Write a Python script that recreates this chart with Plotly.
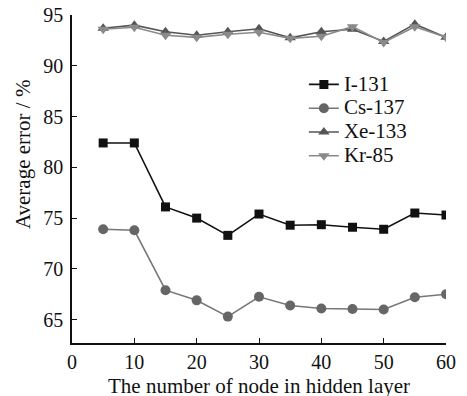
import plotly.graph_objects as go

nodes = [5, 10, 15, 20, 25, 30, 35, 40, 45, 50, 55, 60]
i131 = [82.4, 82.4, 76.1, 75.0, 73.3, 75.4, 74.3, 74.35, 74.1, 73.9, 75.5, 75.3]
cs137 = [73.9, 73.8, 67.9, 66.9, 65.3, 67.25, 66.4, 66.1, 66.05, 66.0, 67.2, 67.5]
xe133 = [93.7, 94.0, 93.35, 93.0, 93.35, 93.65, 92.75, 93.35, 93.6, 92.4, 94.1, 92.8]
kr85 = [93.6, 93.8, 93.0, 92.8, 93.1, 93.3, 92.7, 92.9, 93.85, 92.3, 93.85, 92.8]

xticks = [0, 10, 20, 30, 40, 50, 60]
yticks = [65, 70, 75, 80, 85, 90, 95]
x_title = "The number of node in hidden layer"
y_title = "Average error / %"

series = [
    ("I-131", i131, "#111111", "#111111", "square", 9),
    ("Cs-137", cs137, "#777777", "#666666", "circle", 10),
    ("Xe-133", xe133, "#555555", "#555555", "triangle-up", 10),
    ("Kr-85", kr85, "#8a8a8a", "#8a8a8a", "triangle-down", 10),
]

fig = go.Figure()
for name, ys, lc, mc, sym, sz in series:
    fig.add_trace(go.Scatter(
        x=nodes, y=ys, name='<span style="font-size:21px">' + name + '</span>',
        mode="lines+markers",
        line=dict(color=lc, width=1.6),
        marker=dict(symbol=sym, size=sz, color=mc, line=dict(width=0)),
    ))

FAM = "Liberation Serif, Times New Roman, serif"
def f(size):
    return dict(family=FAM, size=size, color="#111111")

fig.update_layout(
    width=467, height=396,
    margin=dict(l=72, r=21, t=15, b=53),
    paper_bgcolor="white", plot_bgcolor="white",
    font=f(18),
    showlegend=True,
    legend=dict(x=0.62, y=0.84, xanchor="left", yanchor="top",
                bgcolor="rgba(0,0,0,0)", font=f(16),
                itemwidth=30, tracegroupgap=0),
    annotations=[
        dict(text=y_title, xref="paper", yref="paper",
             x=-0.131, y=0.573, xanchor="center", yanchor="middle",
             textangle=-90, showarrow=False, font=f(21)),
        dict(text=x_title, xref="paper", yref="paper",
             x=0.5, y=-0.13, xanchor="center", yanchor="middle",
             showarrow=False, font=f(21)),
    ],
)
fig.update_xaxes(
    range=[0, 60], tickvals=xticks, ticks="inside", ticklen=5,
    showline=True, linecolor="#111111", linewidth=1.5, tickcolor="#111111",
    showgrid=False, zeroline=False, tickfont=f(20),
    automargin=False,
)
fig.update_yaxes(
    range=[62.7, 95], tickvals=yticks, ticks="inside", ticklen=5,
    showline=True, linecolor="#111111", linewidth=1.5, tickcolor="#111111",
    showgrid=False, zeroline=False, tickfont=f(20), ticklabelstandoff=3,
    automargin=False,
)
fig.write_html("out.html")
